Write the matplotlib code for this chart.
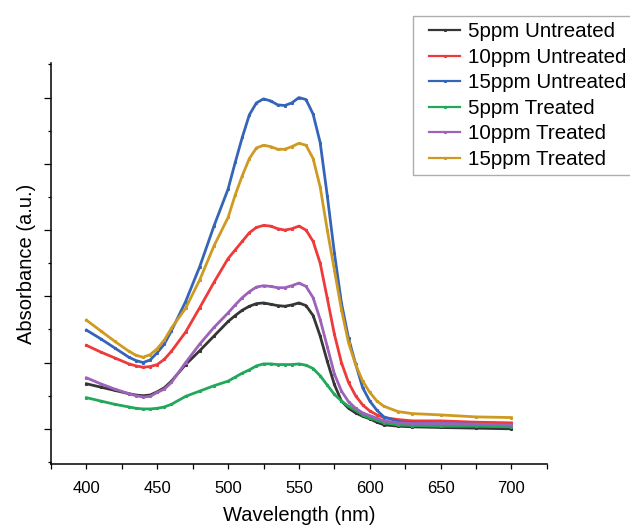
import matplotlib
matplotlib.use("Agg")
import matplotlib.pyplot as plt
from matplotlib.lines import Line2D
from matplotlib.legend_handler import HandlerLine2D
from matplotlib.ticker import MultipleLocator

plt.rcParams["font.family"] = ["Liberation Sans", "DejaVu Sans"]

# wavelength grid (nm)
wavelength = [400, 410, 420, 430, 435, 440, 445, 450, 455, 460, 470, 480, 490,
              500, 505, 510, 515, 520, 525, 530, 535, 540, 545, 550, 555, 560,
              565, 570, 575, 580, 585, 590, 595, 600, 605, 610, 620, 630, 650,
              675, 700]

ppm5_untreated = [.068, .063, .058, .053, .051, .050, .051, .056, .062, .072,
                  .097, .118, .140, .162, .171, .179, .185, .189, .190, .188,
                  .186, .185, .187, .190, .186, .171, .140, .102, .067, .042,
                  .031, .024, .019, .015, .010, .006, .004, .003, .002, .001,
                  .000]
ppm10_untreated = [.126, .116, .107, .098, .095, .093, .094, .097, .105, .117,
                   .146, .183, .221, .257, .270, .283, .296, .304, .307, .306,
                   .302, .300, .302, .306, .300, .283, .250, .197, .143, .100,
                   .070, .050, .036, .027, .021, .017, .014, .012, .012, .010,
                   .009]
ppm15_untreated = [.149, .136, .122, .108, .103, .100, .104, .115, .128, .148,
                   .192, .245, .306, .362, .402, .440, .474, .492, .498, .495,
                   .489, .488, .492, .500, .497, .475, .432, .352, .266, .190,
                   .137, .098, .062, .042, .028, .018, .011, .009, .008, .007,
                   .006]
ppm5_treated = [.047, .042, .037, .033, .031, .030, .030, .031, .033, .037,
                .049, .057, .065, .072, .078, .084, .089, .095, .098, .098,
                .097, .097, .097, .098, .096, .091, .080, .066, .052, .042,
                .034, .028, .021, .016, .013, .009, .006, .005, .004, .004,
                .003]
ppm10_treated = [.077, .068, .060, .053, .050, .048, .049, .055, .060, .070,
                 .100, .128, .153, .175, .187, .198, .207, .214, .216, .215,
                 .213, .213, .216, .220, .215, .198, .165, .124, .083, .057,
                 .041, .031, .024, .020, .016, .012, .009, .008, .008, .007,
                 .006]
ppm15_treated = [.164, .148, .132, .117, .111, .108, .112, .121, .134, .152,
                 .182, .225, .276, .319, .353, .382, .408, .424, .428, .426,
                 .422, .422, .426, .431, .428, .408, .365, .300, .240, .180,
                 .130, .097, .072, .055, .042, .034, .026, .023, .021, .018,
                 .017]

series = [
    ("5ppm Untreated", ppm5_untreated, "#363636"),
    ("10ppm Untreated", ppm10_untreated, "#ee3a3a"),
    ("15ppm Untreated", ppm15_untreated, "#3565b8"),
    ("5ppm Treated", ppm5_treated, "#22a85a"),
    ("10ppm Treated", ppm10_treated, "#9c63b8"),
    ("15ppm Treated", ppm15_treated, "#cf9a22"),
]

fig = plt.figure(figsize=(6.3, 5.26), dpi=100)
ax = fig.add_axes([0.081, 0.118, 0.787, 0.762])

for name, values, color in series:
    ax.plot(wavelength, values, color=color, lw=2, marker="s", ms=1.2,
            label=name)

ax.set_xlim(375, 725)
ax.set_ylim(-0.053, 0.552)
ax.xaxis.set_major_locator(MultipleLocator(50))
ax.xaxis.set_minor_locator(MultipleLocator(25))
ax.yaxis.set_major_locator(MultipleLocator(0.1))
ax.yaxis.set_minor_locator(MultipleLocator(0.05))
ax.set_yticklabels([])

for side in ("top", "right"):
    ax.spines[side].set_visible(False)
for side in ("left", "bottom"):
    ax.spines[side].set_linewidth(1.1)

ax.tick_params(axis="x", which="both", direction="out", length=3.5,
               width=0.9, labelsize=12, pad=9)
ax.tick_params(axis="y", which="major", direction="out", length=5, width=0.9)
ax.tick_params(axis="y", which="minor", direction="out", length=2.5, width=0.9)

ax.set_xlabel("Wavelength (nm)", fontsize=14.5, labelpad=7)
ax.set_ylabel("Absorbance (a.u.)", fontsize=14.5, labelpad=2)

# handles inset from the frame edge via xpad
fig.legend(loc="upper left", bbox_to_anchor=(413 / 630, 1 - 16 / 526),
           fontsize=14.8, frameon=True, fancybox=False, edgecolor="#999999",
           borderpad=0.3, labelspacing=0.32, handlelength=2.0,
           handletextpad=0.37, borderaxespad=0, numpoints=1,
           handler_map={Line2D: HandlerLine2D(xpad=0.48)})
for handle in fig.legends[0].legend_handles:
    handle.set_linewidth(1.6)

fig.savefig("out.png", dpi=100, facecolor="white")
